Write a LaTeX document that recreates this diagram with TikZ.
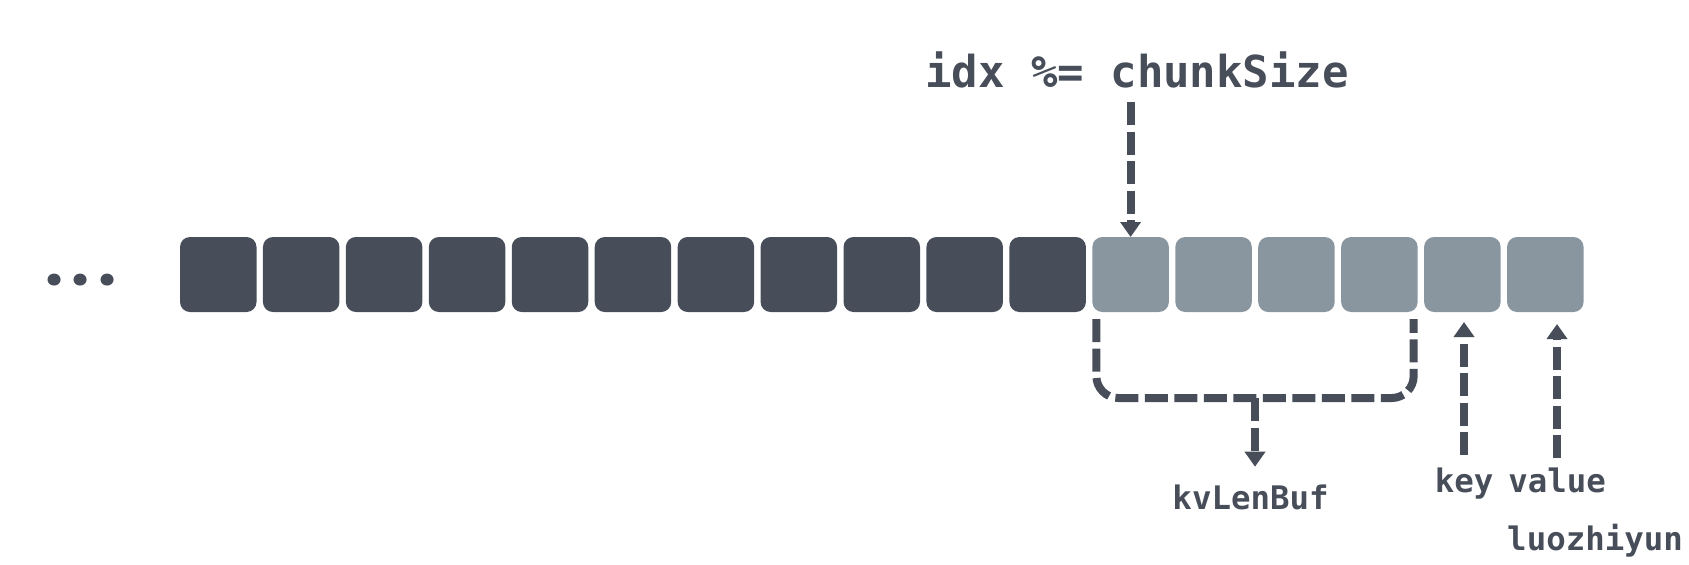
\documentclass[tikz,border=0pt]{standalone}
\usepackage{fontspec}
\setmonofont{DejaVu Sans Mono}
\newfontfamily\dotfont{Poppins}[LetterSpace=13]
\usepackage{tikz}
\usepackage{xcolor}
\usetikzlibrary{positioning, arrows.meta, calc}
\definecolor{slate}{HTML}{474E5A}
\definecolor{steel}{HTML}{8A969F}

\begin{document}
\begin{tikzpicture}[
  x=0.5pt, y=-0.5pt,
  node distance=3.22pt,
  cell/.style={fill=slate, rounded corners=5pt, minimum width=38.25pt, minimum height=37.5pt, inner sep=0pt, outer sep=0pt},
  freecell/.style={cell, fill=steel},
  codelabel/.style={font=\ttfamily\bfseries\fontsize{22}{26}\selectfont, text=slate, inner sep=0pt},
  tag/.style={font=\ttfamily\bfseries\fontsize{16.2}{19}\selectfont, text=slate, inner sep=0pt},
  dashline/.style={line width=4pt, draw=slate, dash pattern=on 11.5pt off 3.25pt},
  dasharrow/.style={dashline, -{Triangle[width=10pt, length=7.5pt]}}
]
\useasboundingbox (0,0) rectangle (1689,564);

% Used part of the chunk
\node[cell] (c1) at (218.25,274.5) {};
\node[cell, right=of c1] (c2) {};
\node[cell, right=of c2] (c3) {};
\node[cell, right=of c3] (c4) {};
\node[cell, right=of c4] (c5) {};
\node[cell, right=of c5] (c6) {};
\node[cell, right=of c6] (c7) {};
\node[cell, right=of c7] (c8) {};
\node[cell, right=of c8] (c9) {};
\node[cell, right=of c9] (c10) {};
\node[cell, right=of c10] (c11) {};
% Entry being written
\node[freecell, right=of c11] (c12) {};
\node[freecell, right=of c12] (c13) {};
\node[freecell, right=of c13] (c14) {};
\node[freecell, right=of c14] (c15) {};
\node[freecell, right=of c15] (c16) {};
\node[freecell, right=of c16] (c17) {};

\node[font=\dotfont\bfseries\fontsize{32}{36}\selectfont, text=slate, inner sep=0pt, anchor=base] (dots) at (81,285) {...};

% Offset inside the chunk
\node[codelabel, anchor=base] (idx) at (1137,87) {idx \%= chunkSize};
\draw[dasharrow, shorten <=7pt] (idx.south -| c12.north) -- (c12.north);

% Length header bracket
\coordinate (brL) at ($(c12.south west)+(2pt,-3.5pt)$);
\coordinate (brR) at ($(c15.south east)+(-2pt,-3.5pt)$);
\draw[dashline, rounded corners=11pt] (brL) -- ++(0,-39.5pt) coordinate (brLL) -| (brR);
\coordinate (brM) at ($(brLL)!0.5!(brLL -| brR)$);
\node[tag, below=43.35pt of brM, xshift=-2.25pt] (kv) {kvLenBuf};
\draw[dasharrow, shorten >=9pt] (brM) -- (brM |- kv.north);

% Key and value bytes
\node[tag, anchor=base] (key) at (1464,492) {key};
\node[tag, anchor=base] (value) at (1557,492) {value};
\draw[dasharrow, shorten <=5.85pt, shorten >=5pt] (key.north) -- (key.north |- c16.south);
\draw[dasharrow, shorten <=4.35pt, shorten >=6pt] (value.north) -- (value.north |- c17.south);

\node[tag, anchor=base] (sign) at (1595,550) {luozhiyun};

\end{tikzpicture}
\end{document}
